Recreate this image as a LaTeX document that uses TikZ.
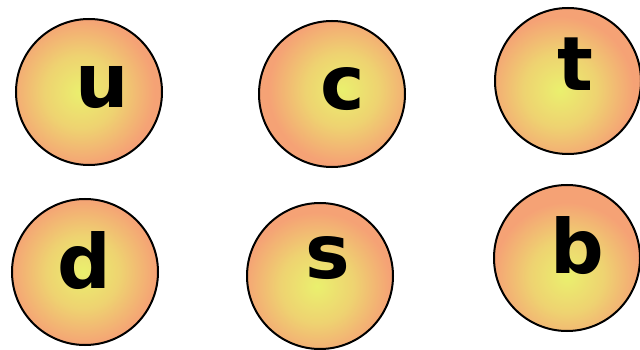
\documentclass[tikz,border=0pt]{standalone}
\usepackage{fontspec}
\setmainfont{DejaVu Sans}
\definecolor{qcore}{HTML}{EAF06E}
\definecolor{qedge}{HTML}{F5A275}
\colorlet{qmid}{qcore!62!qedge}
\pgfdeclareradialshading{quarkglow}{\pgfpoint{0bp}{0bp}}{%
  color(0bp)=(qcore); color(10bp)=(qmid); color(20bp)=(qedge); color(25bp)=(qedge); color(50bp)=(qedge)}

\begin{document}
\begin{tikzpicture}[x=1pt, y=-1pt,
  quark/.style={circle, draw=black, line width=2pt, minimum size=146pt, inner sep=0pt,
    path picture={\shade[shading=quarkglow]
      ([shift={#1}]path picture bounding box.center) circle (92pt);}},
  quark/.default={(0,0)},
  flavour/.style={anchor=base, inner sep=0pt, font=\fontsize{75}{90}\selectfont\bfseries}
]
\useasboundingbox (0,0) rectangle (640,350);

% Top row: up-type quarks
\node[quark={(-8,0)}]  (up)     at (89,92)  {};
\node[quark={(10,-4)}] (charm)  at (332,94) {};
\node[quark={(-8,9)}]  (top)    at (568,81) {};

% Bottom row: down-type quarks
\node[quark={(-2,0)}]  (down)    at (85,272)  {};
\node[quark={(-3,10)}] (strange) at (320,276) {};
\node[quark={(0,18)}]  (bottom)  at (567,258) {};

% Flavour letters
\node[flavour] (up-lbl)      at (102.5,108) {u};
\node[flavour] (charm-lbl)   at (342.5,110) {c};
\node[flavour] (top-lbl)     at (575.5,91)  {t};
\node[flavour] (down-lbl)    at (84.5,288)  {d};
\node[flavour] (strange-lbl) at (328,278)   {s};
\node[flavour] (bottom-lbl)  at (577.5,273) {b};

\end{tikzpicture}
\end{document}
